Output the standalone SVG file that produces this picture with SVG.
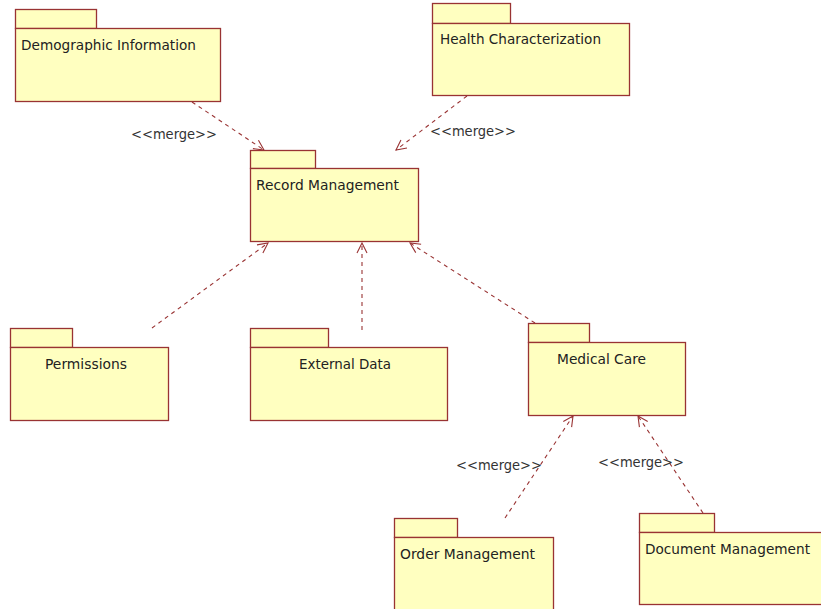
<svg xmlns="http://www.w3.org/2000/svg" width="821" height="609" viewBox="0 0 821 609">
<defs>
<style>
.pk{fill:#FFFFC0;stroke:#993333;stroke-width:1.3}
.t{font-family:"DejaVu Sans",Tahoma,sans-serif;font-size:13.5px;fill:#222}
.c{fill:none;stroke:#993333;stroke-width:1.1;stroke-dasharray:4,4}
.lb{font-family:"DejaVu Sans",Tahoma,sans-serif;font-size:13.5px;fill:#333}
</style>
<marker id="oa" viewBox="0 0 12 12" refX="11" refY="6" markerWidth="12" markerHeight="12" markerUnits="userSpaceOnUse" orient="auto">
<path d="M1,1 L11,6 L1,11" fill="none" stroke="#993333" stroke-width="1.1"/>
</marker>
</defs>
<rect width="821" height="609" fill="#fff"/>
<g id="connectors">
<line class="c" x1="192" y1="102" x2="264" y2="150" marker-end="url(#oa)"/>
<line class="c" x1="467" y1="96" x2="396" y2="150" marker-end="url(#oa)"/>
<line class="c" x1="152" y1="328" x2="268" y2="243" marker-end="url(#oa)"/>
<line class="c" x1="362" y1="330" x2="362" y2="243" marker-end="url(#oa)"/>
<line class="c" x1="535" y1="323" x2="410" y2="243" marker-end="url(#oa)"/>
<line class="c" x1="505" y1="518" x2="573" y2="416" marker-end="url(#oa)"/>
<line class="c" x1="703" y1="513" x2="638" y2="416" marker-end="url(#oa)"/>
<text class="lb" x="131" y="139" textLength="86" lengthAdjust="spacingAndGlyphs">&lt;&lt;merge&gt;&gt;</text>
<text class="lb" x="430" y="136" textLength="86" lengthAdjust="spacingAndGlyphs">&lt;&lt;merge&gt;&gt;</text>
<text class="lb" x="456" y="470" textLength="86" lengthAdjust="spacingAndGlyphs">&lt;&lt;merge&gt;&gt;</text>
<text class="lb" x="598" y="467" textLength="86" lengthAdjust="spacingAndGlyphs">&lt;&lt;merge&gt;&gt;</text>
</g>
<g id="demographic">
<rect class="pk" x="15.5" y="9.5" width="81" height="19"/>
<rect class="pk" x="15.5" y="28.5" width="205" height="73"/>
<text class="t" x="21" y="50" textLength="175" lengthAdjust="spacingAndGlyphs">Demographic Information</text>
</g>
<g id="health">
<rect class="pk" x="432.5" y="3.5" width="78" height="20"/>
<rect class="pk" x="432.5" y="23.5" width="197" height="72"/>
<text class="t" x="440" y="44" textLength="161" lengthAdjust="spacingAndGlyphs">Health Characterization</text>
</g>
<g id="record">
<rect class="pk" x="250.5" y="150.5" width="65" height="18"/>
<rect class="pk" x="250.5" y="168.5" width="168" height="73"/>
<text class="t" x="256" y="190" textLength="143" lengthAdjust="spacingAndGlyphs">Record Management</text>
</g>
<g id="permissions">
<rect class="pk" x="10.5" y="328.5" width="62" height="19"/>
<rect class="pk" x="10.5" y="347.5" width="158" height="73"/>
<text class="t" x="45" y="369" textLength="82" lengthAdjust="spacingAndGlyphs">Permissions</text>
</g>
<g id="external">
<rect class="pk" x="250.5" y="328.5" width="78" height="19"/>
<rect class="pk" x="250.5" y="347.5" width="197" height="73"/>
<text class="t" x="299" y="369" textLength="92" lengthAdjust="spacingAndGlyphs">External Data</text>
</g>
<g id="medical">
<rect class="pk" x="528.5" y="323.5" width="61" height="19"/>
<rect class="pk" x="528.5" y="342.5" width="157" height="73"/>
<text class="t" x="557" y="364" textLength="89" lengthAdjust="spacingAndGlyphs">Medical Care</text>
</g>
<g id="order">
<rect class="pk" x="394.5" y="518.5" width="63" height="19"/>
<rect class="pk" x="394.5" y="537.5" width="159" height="80"/>
<text class="t" x="400" y="559" textLength="135" lengthAdjust="spacingAndGlyphs">Order Management</text>
</g>
<g id="document">
<rect class="pk" x="639.5" y="513.5" width="75" height="19"/>
<rect class="pk" x="639.5" y="532.5" width="190" height="72"/>
<text class="t" x="645" y="554" textLength="165" lengthAdjust="spacingAndGlyphs">Document Management</text>
</g>
</svg>
